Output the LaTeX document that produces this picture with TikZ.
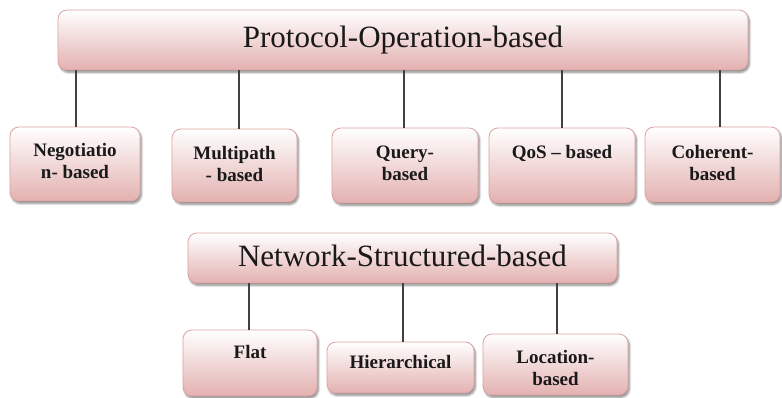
\documentclass[tikz,border=0pt]{standalone}
\usepackage{fontspec}
\setmainfont{Liberation Serif}
\usetikzlibrary{shadows.blur}
\definecolor{pinkborder}{HTML}{DDA3A2}
\definecolor{pinkbot}{HTML}{E3B1B0}
\definecolor{linegray}{HTML}{404040}
\tikzset{
  cat/.style={draw=pinkborder, line width=0.8pt, rounded corners=9pt,
    top color=white, bottom color=pinkbot, inner sep=0pt,
    blur shadow={shadow xshift=1.5pt, shadow yshift=-2.5pt, shadow blur steps=6, shadow blur radius=2pt, shadow opacity=45},
    font=\bfseries\fontsize{19}{22}\selectfont, text=black!90},
  title/.style={font=\fontsize{31}{34}\selectfont},
  conn/.style={draw=linegray, line width=1.2pt}
}
\newcommand{\catbox}[8][]{%
  \pgfmathsetmacro{\cbw}{#4-#2}\pgfmathsetmacro{\cbh}{#5-#3}%
  \node[cat,#1, minimum width=\cbw pt, minimum height=\cbh pt] (#6) at ({(#2+#4)/2},{(#3+#5)/2})
    {\parbox[c][\cbh pt][t]{\cbw pt}{\centering\vspace*{#7pt}#8\par}};}
\begin{document}
\begin{tikzpicture}[x=1pt,y=-1pt]
\useasboundingbox (0,0) rectangle (782,398);
% top group
\catbox[title]{58}{10}{748}{70}{top}{16}{Protocol-Operation-based}
\catbox{10}{127}{140}{201}{neg}{16.5}{Negotiatio\\n- based}
\catbox{172}{129}{297}{202}{mul}{17.5}{Multipath\\- based}
\catbox{332}{128}{478}{203}{que}{17.5}{Query-\\based}
\catbox{489}{128}{635}{203}{qos}{17.5}{QoS -- based}
\catbox{645}{127}{780}{202}{coh}{18}{Coherent-\\based}
\draw[conn] ([xshift=1pt]neg.north) -- ([xshift=1pt]neg.north |- top.south);
\draw[conn] ([xshift=4.5pt]mul.north) -- ([xshift=4.5pt]mul.north |- top.south);
\draw[conn] ([xshift=-1pt]que.north) -- ([xshift=-1pt]que.north |- top.south);
\draw[conn] (qos.north) -- (qos.north |- top.south);
\draw[conn] ([xshift=7.5pt]coh.north) -- ([xshift=7.5pt]coh.north |- top.south);
% bottom group
\catbox[title]{188}{233}{617}{283}{net}{12}{Network-Structured-based}
\catbox{183}{330}{317}{396}{flat}{15.5}{Flat}
\catbox{327}{342}{474}{393}{hier}{13.5}{Hierarchical}
\catbox{483}{334}{628}{395}{loc}{16.5}{Location-\\based}
\draw[conn] ([xshift=-1pt]flat.north) -- ([xshift=-1pt]flat.north |- net.south);
\draw[conn] ([xshift=2.5pt]hier.north) -- ([xshift=2.5pt]hier.north |- net.south);
\draw[conn] ([xshift=1.5pt]loc.north) -- ([xshift=1.5pt]loc.north |- net.south);
\end{tikzpicture}
\end{document}
